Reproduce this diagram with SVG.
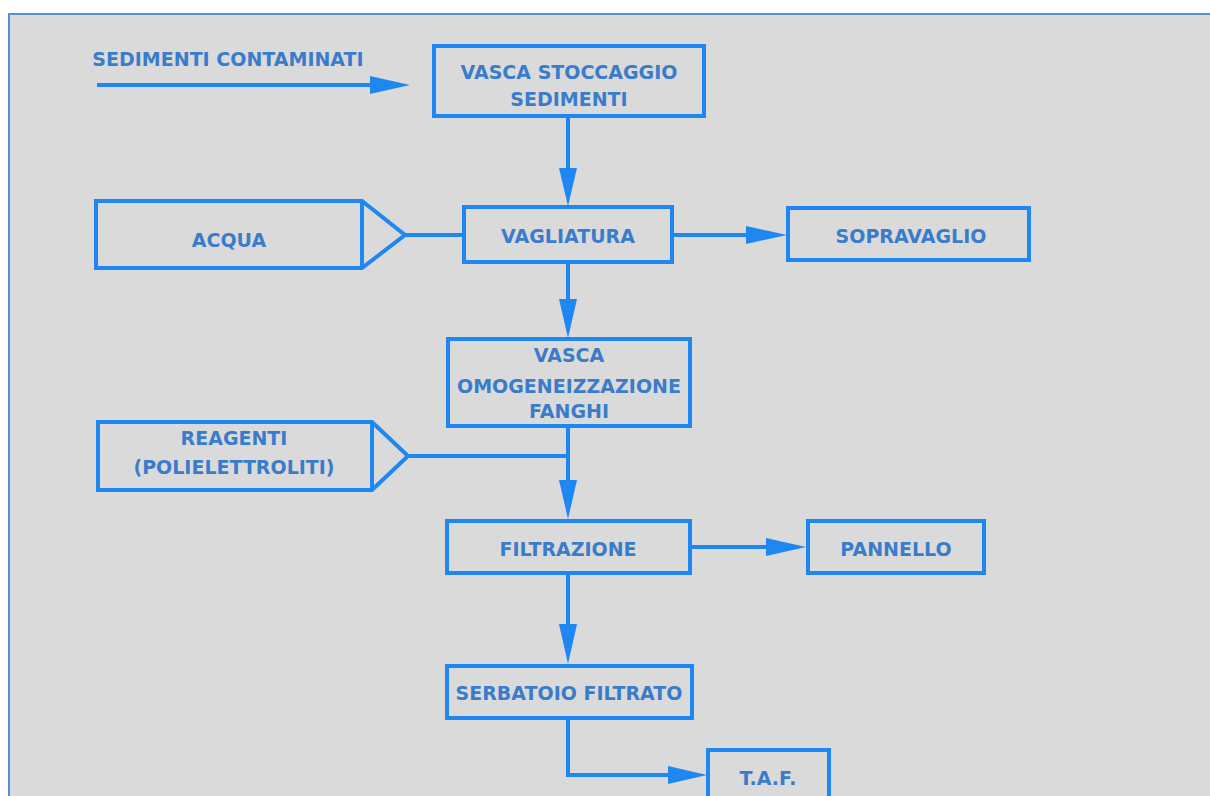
<svg xmlns="http://www.w3.org/2000/svg" width="1210" height="796" viewBox="0 0 1210 796">
<defs>
<style>
.bx{fill:none;stroke:#1e87f2;stroke-width:4}
.ln{fill:none;stroke:#1e87f2;stroke-width:4}
.ah{fill:#1e87f2}
.t{font-family:"DejaVu Sans","Liberation Sans",sans-serif;font-weight:bold;font-size:19px;fill:#3a7ccc;text-anchor:middle}
</style>
</defs>
<rect x="0" y="0" width="1210" height="796" fill="#ffffff"/>
<rect x="9" y="14" width="1205" height="790" fill="#dadada" stroke="#5b8ed0" stroke-width="2"/>
<g id="connectors">
<line class="ln" x1="97" y1="85" x2="375" y2="85"/>
<polygon class="ah" points="370,76 410,85 370,94"/>
<line class="ln" x1="568" y1="116" x2="568" y2="172"/>
<polygon class="ah" points="559,168 568,206 577,168"/>
<line class="ln" x1="405" y1="235" x2="464" y2="235"/>
<line class="ln" x1="672" y1="235" x2="750" y2="235"/>
<polygon class="ah" points="746,226 787,235 746,244"/>
<line class="ln" x1="568" y1="262" x2="568" y2="303"/>
<polygon class="ah" points="559,299 568,338 577,299"/>
<line class="ln" x1="408" y1="456" x2="568" y2="456"/>
<line class="ln" x1="568" y1="426" x2="568" y2="484"/>
<polygon class="ah" points="559,480 568,519 577,480"/>
<line class="ln" x1="690" y1="547" x2="770" y2="547"/>
<polygon class="ah" points="766,538 806,547 766,556"/>
<line class="ln" x1="568" y1="573" x2="568" y2="628"/>
<polygon class="ah" points="559,624 568,664 577,624"/>
<polyline class="ln" points="568,718 568,775 672,775"/>
<polygon class="ah" points="668,766 707,775 668,784"/>
</g>
<g id="sedimenti">
<text class="t" x="228" y="66">SEDIMENTI CONTAMINATI</text>
</g>
<g id="vasca-stoccaggio">
<rect class="bx" x="434" y="46" width="270" height="70"/>
<text class="t" x="569" y="79">VASCA STOCCAGGIO</text>
<text class="t" x="569" y="106">SEDIMENTI</text>
</g>
<g id="acqua">
<polygon class="bx" points="96,201 362,201 405,235 362,268 96,268"/>
<line class="ln" x1="362" y1="201" x2="362" y2="268"/>
<text class="t" x="229" y="247">ACQUA</text>
</g>
<g id="vagliatura">
<rect class="bx" x="464" y="207" width="208" height="55"/>
<text class="t" x="568" y="243">VAGLIATURA</text>
</g>
<g id="sopravaglio">
<rect class="bx" x="788" y="208" width="241" height="52"/>
<text class="t" x="911" y="243">SOPRAVAGLIO</text>
</g>
<g id="vasca-omogeneizzazione">
<rect class="bx" x="448" y="339" width="242" height="87"/>
<text class="t" x="569" y="362">VASCA</text>
<text class="t" x="569" y="393">OMOGENEIZZAZIONE</text>
<text class="t" x="569" y="418">FANGHI</text>
</g>
<g id="reagenti">
<polygon class="bx" points="98,422 372,422 408,456 372,490 98,490"/>
<line class="ln" x1="372" y1="422" x2="372" y2="490"/>
<text class="t" x="234" y="445">REAGENTI</text>
<text class="t" x="234" y="474">(POLIELETTROLITI)</text>
</g>
<g id="filtrazione">
<rect class="bx" x="447" y="521" width="243" height="52"/>
<text class="t" x="568" y="556">FILTRAZIONE</text>
</g>
<g id="pannello">
<rect class="bx" x="808" y="521" width="176" height="52"/>
<text class="t" x="896" y="556">PANNELLO</text>
</g>
<g id="serbatoio-filtrato">
<rect class="bx" x="447" y="666" width="245" height="52"/>
<text class="t" x="569" y="700">SERBATOIO FILTRATO</text>
</g>
<g id="taf">
<rect class="bx" x="708" y="750" width="121" height="60"/>
<text class="t" x="768" y="785">T.A.F.</text>
</g>
</svg>
